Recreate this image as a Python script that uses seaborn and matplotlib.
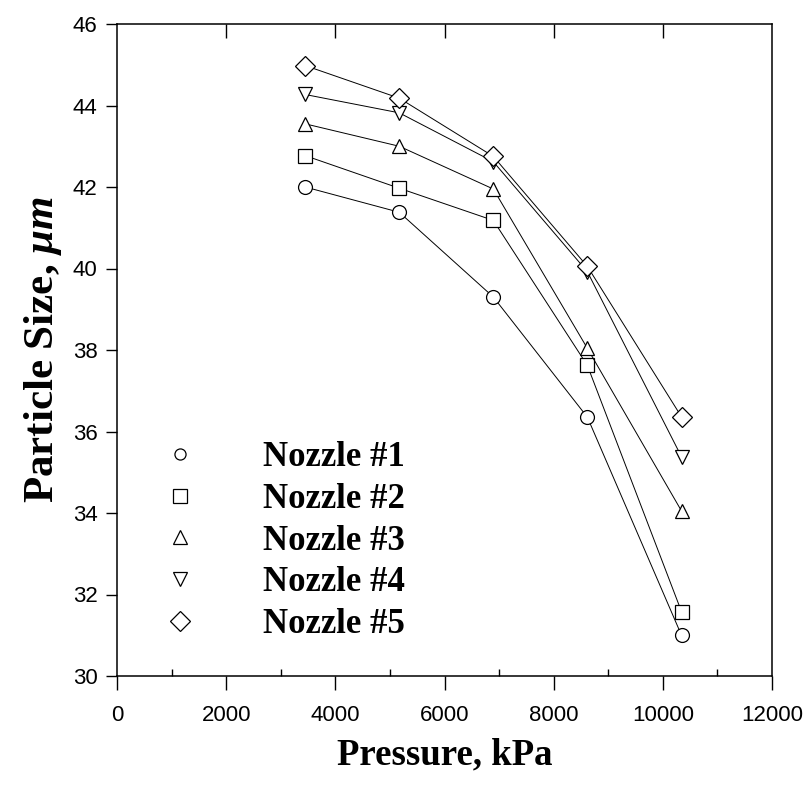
import numpy as np
import pandas as pd
import seaborn as sns
import matplotlib.pyplot as plt
from matplotlib.lines import Line2D
from matplotlib.ticker import MultipleLocator

# Data
pressure = [3447, 5171, 6895, 8618, 10342]
nozzle_1 = [42.0, 41.38, 39.3, 36.35, 31.0]
nozzle_2 = [42.77, 41.97, 41.18, 37.62, 31.58]
nozzle_3 = [43.55, 43.0, 41.95, 38.04, 34.05]
nozzle_4 = [44.27, 43.82, 42.62, 39.92, 35.38]
nozzle_5 = [44.98, 44.18, 42.75, 40.05, 36.36]
names = ["Nozzle #1", "Nozzle #2", "Nozzle #3", "Nozzle #4", "Nozzle #5"]
markers = ["o", "s", "^", "v", "D"]

series = [nozzle_1, nozzle_2, nozzle_3, nozzle_4, nozzle_5]
df = pd.concat([
    pd.DataFrame({"Pressure": pressure, "Size": vals, "Nozzle": name})
    for name, vals in zip(names, series)
])

sns.set_style("ticks", rc={"text.color": "black", "axes.labelcolor": "black",
                           "xtick.color": "black", "ytick.color": "black",
                           "axes.edgecolor": "black"})
plt.rcParams['font.family'] = ['Liberation Serif', 'DejaVu Serif']
plt.rcParams['mathtext.fontset'] = 'custom'
plt.rcParams['mathtext.it'] = 'Liberation Serif:italic:bold'

fig = plt.figure(figsize=(8.04, 7.91), dpi=100)
ax = fig.add_axes([117 / 804, 1 - 676 / 791, 655 / 804, 652 / 791])

sns.lineplot(
    data=df, x="Pressure", y="Size", hue="Nozzle", style="Nozzle",
    palette=["black"] * 5, markers=dict(zip(names, markers)), dashes=False,
    markersize=10, markerfacecolor="white", markeredgecolor="black",
    markeredgewidth=0.9, linewidth=0.7, legend=False, ax=ax
)

ax.set_xlim(0, 12000)
ax.set_ylim(30, 46)
ax.xaxis.set_major_locator(MultipleLocator(2000))
ax.xaxis.set_minor_locator(MultipleLocator(1000))
ax.yaxis.set_major_locator(MultipleLocator(2))
ax.tick_params(axis='x', which='major', direction='out', length=10, width=1, pad=11)
ax.tick_params(axis='x', which='minor', direction='in', length=5, width=1)
ax.tick_params(axis='y', which='major', direction='out', length=8, width=1, pad=6)
tick_font = ['Liberation Sans Narrow', 'Liberation Sans', 'DejaVu Sans']
for lab in ax.get_xticklabels() + ax.get_yticklabels():
    lab.set_family(tick_font)
    lab.set_fontsize(16)
for s in ax.spines.values():
    s.set_visible(True)
    s.set_linewidth(1.1)

# inward ticks on the top spine
top = ax.secondary_xaxis('top')
top.set_xticks([2000, 4000, 6000, 8000, 10000])
top.tick_params(direction='in', length=10, width=1, labeltop=False)
top.spines['top'].set_visible(False)

ax.set_xlabel("Pressure, kPa", fontsize=26.5, fontweight='bold', labelpad=8)
ax.set_ylabel(r"Particle Size, $\mu m$", fontsize=31, fontweight='bold', labelpad=6)

handles = [Line2D([], [], linestyle='none', marker=m, markersize=s,
                  markerfacecolor='white', markeredgecolor='black', markeredgewidth=0.9)
           for m, s in zip(markers, [8, 10, 10, 10, 10])]
leg = ax.legend(handles, names, loc='upper left', bbox_to_anchor=(-0.005, 0.408),
                frameon=False, handlelength=2, handletextpad=1.4, labelspacing=0.25,
                prop={'family': 'Liberation Serif', 'weight': 'bold', 'size': 25})

fig.savefig("out.png", dpi=100)
